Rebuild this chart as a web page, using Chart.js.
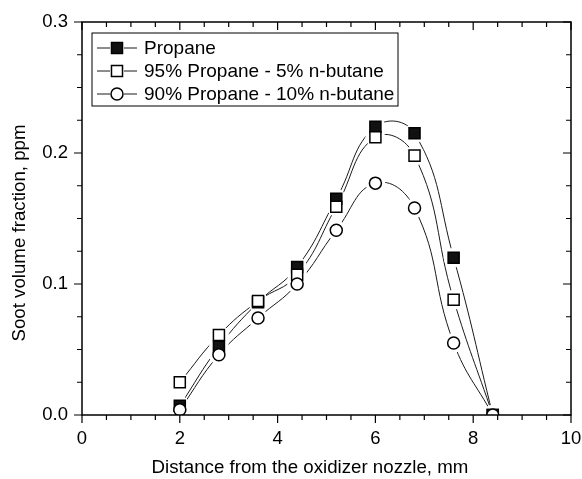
<!DOCTYPE html>
<html>
<head>
<meta charset="utf-8">
<script src="https://cdn.jsdelivr.net/npm/chart.js@4/dist/chart.umd.min.js"></script>
<style>
  html, body { margin: 0; padding: 0; background: #fff; }
  #wrap { width: 582px; height: 479px; }
</style>
</head>
<body>
<div id="wrap"><canvas id="myChart" width="582" height="479"></canvas></div>
<script>
const distance = [2.0, 2.8, 3.6, 4.4, 5.2, 6.0, 6.8, 7.6, 8.4];
const propane = [0.007, 0.052, 0.086, 0.113, 0.165, 0.220, 0.215, 0.120, 0.000];
const butane5 = [0.025, 0.061, 0.087, 0.107, 0.159, 0.212, 0.198, 0.088, 0.000];
const butane10 = [0.004, 0.046, 0.074, 0.100, 0.141, 0.177, 0.158, 0.055, 0.000];

const seriesNames = ["Propane", "95% Propane - 5% n-butane", "90% Propane - 10% n-butane"];
const xTickLabels = ["0", "2", "4", "6", "8", "10"];
const yTickLabels = ["0.0", "0.1", "0.2", "0.3"];
const xTitle = "Distance from the oxidizer nozzle, mm";
const yTitle = "Soot volume fraction, ppm";

const FONT = "'Liberation Sans', Arial, sans-serif";
Chart.defaults.font.family = FONT;
Chart.defaults.color = "#000";

const toPoints = (ys) => distance.map((x, i) => ({ x: x, y: ys[i] }));

const markers = [
  { style: "rect", radius: 7.8, fill: "#111" },
  { style: "rect", radius: 7.8, fill: "#fff" },
  { style: "circle", radius: 6, fill: "#fff" },
];

const allSeries = [propane, butane5, butane10];
const datasets = [];

allSeries.forEach((ys, i) => {
  // curve
  datasets.push({
    label: seriesNames[i] + " line",
    data: toPoints(ys),
    showLine: true,
    borderColor: "#1a1a1a",
    borderWidth: 1,
    tension: 0.45,
    pointRadius: 0,
    fill: false,
    order: 6 + i,
  });
  // white gap round the marker
  datasets.push({
    label: seriesNames[i] + " gap",
    data: toPoints(ys),
    showLine: false,
    pointStyle: "circle",
    pointRadius: 10,
    pointBackgroundColor: "#fff",
    pointBorderColor: "#fff",
    pointBorderWidth: 0,
    order: 3 + i,
  });
  // marker
  datasets.push({
    label: seriesNames[i],
    data: toPoints(ys),
    showLine: false,
    pointStyle: markers[i].style,
    pointRadius: markers[i].radius,
    pointBackgroundColor: markers[i].fill,
    pointBorderColor: "#000",
    pointBorderWidth: 1.5,
    order: 2 - i,
  });
});

const drawMarker = (ctx, m, x, y) => {
  ctx.save();
  ctx.lineWidth = 1.5;
  ctx.strokeStyle = "#000";
  ctx.fillStyle = m.fill;
  ctx.beginPath();
  if (m.style === "rect") {
    const s = m.radius * Math.SQRT2;
    ctx.rect(x - s / 2, y - s / 2, s, s);
  } else {
    ctx.arc(x, y, m.radius, 0, Math.PI * 2);
  }
  ctx.fill();
  ctx.stroke();
  ctx.restore();
};

const framePlugin = {
  id: "frame",
  afterDraw(chart) {
    const { ctx, chartArea: a, scales } = chart;
    ctx.save();
    ctx.strokeStyle = "#000";
    ctx.lineWidth = 1.5;
    ctx.strokeRect(a.left, a.top, a.right - a.left, a.bottom - a.top);

    // ticks: outward on left/bottom, inward on top/right
    ctx.lineWidth = 1.2;
    ctx.beginPath();
    for (let v = 0; v <= 10 + 1e-9; v += 0.5) {
      const px = scales.x.getPixelForValue(v);
      const major = Math.abs(v / 2 - Math.round(v / 2)) < 1e-6;
      const len = major ? 8 : 5;
      ctx.moveTo(px, a.bottom);
      ctx.lineTo(px, a.bottom + len);
      ctx.moveTo(px, a.top);
      ctx.lineTo(px, a.top + len);
    }
    for (let v = 0; v <= 0.3 + 1e-9; v += 0.025) {
      const py = scales.y.getPixelForValue(v);
      const major = Math.abs(v * 10 - Math.round(v * 10)) < 1e-6;
      const len = major ? 8 : 5;
      ctx.moveTo(a.left, py);
      ctx.lineTo(a.left - len, py);
      ctx.moveTo(a.right, py);
      ctx.lineTo(a.right - len, py);
    }
    ctx.stroke();

    // axis titles
    ctx.fillStyle = "#000";
    ctx.font = "18.7px " + FONT;
    ctx.textAlign = "center";
    ctx.textBaseline = "middle";
    ctx.fillText(xTitle, 310, 468);
    ctx.save();
    ctx.translate(20, 233);
    ctx.rotate(-Math.PI / 2);
    ctx.fillText(yTitle, 0, 0);
    ctx.restore();

    // legend box
    const bx = a.left + 10, by = a.top + 11, bw = 306, bh = 73;
    ctx.lineWidth = 1;
    ctx.fillStyle = "#fff";
    ctx.fillRect(bx, by, bw, bh);
    ctx.strokeRect(bx, by, bw, bh);
    ctx.textAlign = "left";
    ctx.font = "19px " + FONT;
    seriesNames.forEach((name, i) => {
      const y = by + 15 + i * 23;
      ctx.strokeStyle = "#1a1a1a";
      ctx.lineWidth = 1;
      ctx.beginPath();
      ctx.moveTo(bx + 5, y);
      ctx.lineTo(bx + 45, y);
      ctx.stroke();
      ctx.fillStyle = "#fff";
      ctx.fillRect(bx + 18, y - 8, 14, 16);
      drawMarker(ctx, markers[i], bx + 25, y);
      ctx.fillStyle = "#000";
      ctx.fillText(name, bx + 52, y + 1);
    });
    ctx.restore();
  },
};

new Chart(document.getElementById("myChart"), {
  type: "scatter",
  data: { datasets: datasets },
  options: {
    responsive: false,
    animation: false,
    layout: { padding: { top: 22, right: 11, left: 0, bottom: 0 } },
    plugins: {
      legend: { display: false },
      tooltip: { enabled: false },
    },
    scales: {
      x: {
        type: "linear",
        min: 0,
        max: 10,
        afterFit: (scale) => {
          scale.height = 64;
          scale.paddingLeft = 0;
          scale.paddingRight = 0;
        },
        ticks: {
          stepSize: 2,
          padding: 13,
          font: { size: 18.5 },
          color: "#000",
          callback: (v) => xTickLabels[Math.round(v / 2)],
        },
        grid: { display: false, drawTicks: false },
        border: { display: false },
      },
      y: {
        type: "linear",
        min: 0,
        max: 0.3,
        afterFit: (scale) => {
          scale.width = 82;
          scale.paddingTop = 0;
          scale.paddingBottom = 0;
        },
        ticks: {
          stepSize: 0.1,
          padding: 14,
          font: { size: 18.5 },
          color: "#000",
          callback: (v) => yTickLabels[Math.round(v * 10)],
        },
        grid: { display: false, drawTicks: false },
        border: { display: false },
      },
    },
  },
  plugins: [framePlugin],
});
</script>
</body>
</html>
